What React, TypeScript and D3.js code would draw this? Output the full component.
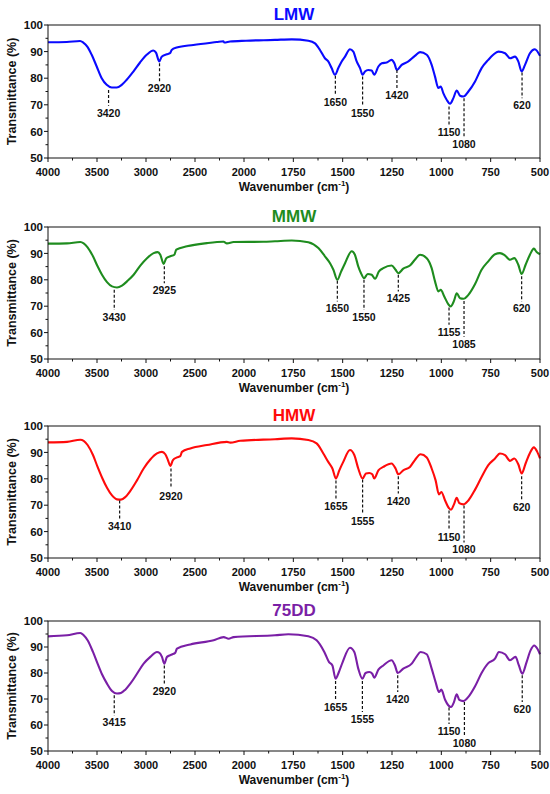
import React from 'react';
import * as d3 from 'd3';

type Pt = [number, number];
interface Peak { label: string; wn: number; y1: number; y2: number }

// axis ticks (wavenumber axis has a scale change at 2000)
const xMajor = [4000, 3500, 3000, 2500, 2000, 1750, 1500, 1250, 1000, 750, 500];
const xMinor = [3750, 3250, 2750, 2250, 1875, 1625, 1375, 1125, 875, 625];
const yMajor = [50, 60, 70, 80, 90, 100];
const yMinor = [55, 65, 75, 85, 95];

const names = ['LMW', 'MMW', 'HMW', '75DD'];
const colors = ['#0a0aff', '#1e8c1e', '#ff0a0a', '#7a1fa6'];

const lmw: Pt[] = [
  [4000, 93.5], [3809, 93.6], [3673, 94.0], [3640, 93.4], [3599, 91.9], [3554, 88.8], [3503, 84.4],
  [3452, 80.0], [3401, 77.5], [3350, 76.5], [3299, 76.5], [3248, 77.5], [3197, 79.4], [3129, 82.5],
  [3061, 85.9], [2993, 88.8], [2925, 90.4], [2898, 89.6], [2864, 86.3], [2840, 88.1], [2789, 89.0],
  [2755, 89.4], [2738, 90.6], [2687, 91.5], [2517, 92.5], [2279, 93.6], [2211, 93.9], [2201, 93.4],
  [2143, 93.8], [1990, 94.1], [1843, 94.4], [1758, 94.6], [1674, 94.1], [1640, 93.1], [1615, 90.6],
  [1590, 87.5], [1573, 86.3], [1556, 83.8], [1539, 81.3], [1522, 83.8], [1505, 86.3], [1488, 88.1],
  [1463, 90.9], [1446, 90.0], [1429, 86.3], [1412, 83.8], [1399, 81.3], [1387, 82.5], [1370, 83.1],
  [1353, 82.9], [1340, 81.3], [1319, 84.4], [1302, 85.6], [1277, 85.9], [1252, 86.9], [1238, 85.6],
  [1225, 83.1], [1201, 85.0], [1167, 86.3], [1134, 88.4], [1108, 89.8], [1074, 88.8], [1049, 85.0],
  [1032, 80.6], [1015, 76.3], [1003, 76.9], [990, 74.4], [973, 71.9], [956, 70.4], [939, 72.5],
  [922, 75.4], [905, 73.4], [888, 73.1], [863, 75.0], [829, 78.8], [796, 83.8], [762, 86.9],
  [737, 88.8], [711, 90.0], [677, 89.4], [652, 87.5], [627, 88.1], [610, 86.3], [593, 82.5],
  [576, 85.0], [551, 89.4], [526, 90.9], [500, 88.4],
];
const mmw: Pt[] = [
  [4000, 93.7], [3806, 93.8], [3670, 94.3], [3636, 93.8], [3596, 92.3], [3541, 88.9], [3494, 85.1],
  [3449, 81.9], [3398, 79.1], [3347, 77.5], [3296, 77.1], [3245, 77.8], [3194, 79.4], [3126, 81.9],
  [3058, 85.4], [2990, 88.2], [2922, 90.1], [2881, 90.5], [2854, 89.5], [2820, 86.0], [2793, 88.2],
  [2752, 88.9], [2711, 89.5], [2691, 91.4], [2582, 92.7], [2378, 93.9], [2208, 94.4], [2174, 93.8],
  [2106, 94.3], [1902, 94.4], [1843, 94.6], [1758, 94.9], [1674, 94.2], [1623, 92.0], [1590, 88.9],
  [1564, 86.3], [1547, 83.8], [1527, 80.0], [1509, 82.9], [1488, 86.3], [1454, 90.8], [1438, 89.5],
  [1421, 85.1], [1407, 82.5], [1392, 80.6], [1373, 82.2], [1353, 81.9], [1336, 80.4], [1316, 83.2],
  [1294, 84.4], [1252, 85.4], [1232, 83.8], [1218, 82.5], [1193, 84.2], [1159, 85.4], [1134, 87.6],
  [1108, 89.5], [1074, 88.2], [1049, 84.4], [1032, 79.4], [1015, 75.6], [1003, 76.2], [985, 73.7],
  [965, 70.8], [953, 69.9], [936, 72.0], [922, 74.9], [905, 73.0], [888, 72.8], [863, 74.3],
  [829, 78.4], [796, 83.8], [762, 87.0], [728, 89.7], [703, 90.1], [677, 89.2], [652, 87.6],
  [630, 88.2], [610, 85.7], [593, 82.2], [573, 85.7], [551, 89.5], [531, 91.8], [517, 90.5], [500, 89.7],
];
const hmw: Pt[] = [
  [4000, 93.8], [3806, 94.0], [3670, 94.8], [3636, 94.4], [3596, 92.8], [3541, 89.0], [3494, 84.5],
  [3449, 80.5], [3398, 76.6], [3347, 73.7], [3296, 72.2], [3256, 72.1], [3211, 73.1], [3160, 75.4],
  [3092, 79.4], [3024, 83.9], [2956, 87.3], [2888, 89.6], [2837, 90.2], [2803, 89.3], [2776, 87.1],
  [2752, 84.9], [2725, 87.1], [2684, 88.1], [2650, 88.6], [2633, 90.2], [2548, 91.5], [2378, 92.8],
  [2174, 94.0], [2140, 93.7], [2038, 94.4], [1843, 95.0], [1758, 95.3], [1674, 94.7], [1632, 93.4],
  [1598, 89.6], [1573, 86.4], [1552, 83.9], [1534, 80.1], [1517, 83.2], [1497, 86.4], [1463, 90.9],
  [1441, 89.0], [1421, 83.9], [1399, 80.1], [1382, 82.0], [1365, 82.2], [1350, 81.7], [1340, 80.1],
  [1319, 83.2], [1294, 84.5], [1252, 85.8], [1232, 83.9], [1218, 81.7], [1193, 83.2], [1159, 84.5],
  [1134, 87.1], [1105, 89.3], [1074, 88.1], [1049, 83.9], [1029, 79.4], [1012, 74.1], [1000, 75.0],
  [981, 71.8], [965, 69.3], [951, 68.3], [936, 70.3], [922, 72.8], [909, 70.8], [888, 70.3],
  [863, 71.8], [829, 75.9], [796, 80.7], [762, 85.2], [728, 87.7], [703, 89.6], [677, 89.0],
  [652, 86.8], [630, 87.7], [610, 85.5], [593, 82.0], [573, 85.8], [551, 89.8], [531, 91.9],
  [514, 90.2], [500, 87.7],
];
const dd75: Pt[] = [
  [4000, 94.1], [3806, 94.5], [3670, 95.4], [3636, 94.5], [3596, 92.6], [3541, 88.1], [3494, 83.6],
  [3449, 79.5], [3398, 75.9], [3347, 73.1], [3296, 72.1], [3256, 72.3], [3211, 73.6], [3160, 75.9],
  [3092, 79.7], [3024, 83.6], [2956, 86.2], [2888, 88.1], [2861, 87.7], [2837, 86.2], [2813, 83.6],
  [2786, 86.2], [2735, 87.1], [2701, 87.8], [2684, 89.4], [2548, 91.0], [2310, 92.6], [2208, 93.8],
  [2157, 93.2], [2106, 93.8], [1843, 94.5], [1775, 94.9], [1674, 94.1], [1632, 92.6], [1593, 88.1],
  [1569, 84.2], [1552, 82.9], [1536, 77.8], [1519, 80.4], [1500, 84.2], [1463, 89.7], [1441, 88.1],
  [1421, 81.7], [1400, 77.8], [1384, 80.0], [1365, 80.4], [1350, 79.7], [1340, 78.2], [1319, 81.3],
  [1294, 82.9], [1252, 84.9], [1235, 82.9], [1221, 80.0], [1193, 81.7], [1150, 83.6], [1125, 86.4],
  [1105, 88.1], [1074, 87.2], [1049, 81.7], [1029, 76.5], [1012, 72.7], [1000, 73.6], [981, 69.7],
  [965, 67.6], [951, 66.9], [936, 68.8], [922, 71.8], [909, 69.7], [888, 69.2], [863, 70.8],
  [829, 74.9], [796, 80.0], [762, 83.8], [728, 85.5], [708, 88.1], [677, 87.2], [652, 84.9],
  [624, 86.2], [607, 82.9], [590, 79.7], [568, 84.2], [548, 88.7], [529, 90.6], [514, 89.4], [500, 87.2],
];

// peak markers: label, wavenumber position, dashed line from y1 down to y2
const lmwPeaks: Peak[] = [
  { label: '3420', wn: 3382, y1: 75.6, y2: 69.6 },
  { label: '2920', wn: 2862, y1: 85.6, y2: 78.8 },
  { label: '1650', wn: 1537, y1: 80.9, y2: 73.8 },
  { label: '1550', wn: 1399, y1: 80.6, y2: 69.4 },
  { label: '1420', wn: 1225, y1: 83.1, y2: 76.3 },
  { label: '1150', wn: 961, y1: 69.4, y2: 62.5 },
  { label: '1080', wn: 885, y1: 72.5, y2: 58.0 },
  { label: '620', wn: 591, y1: 82.1, y2: 72.5 },
];
const mmwPeaks: Peak[] = [
  { label: '3430', wn: 3324, y1: 76.2, y2: 68.6 },
  { label: '2925', wn: 2813, y1: 85.1, y2: 78.7 },
  { label: '1650', wn: 1527, y1: 79.6, y2: 71.8 },
  { label: '1550', wn: 1392, y1: 80.0, y2: 68.6 },
  { label: '1425', wn: 1218, y1: 81.9, y2: 75.6 },
  { label: '1155', wn: 961, y1: 69.5, y2: 63.0 },
  { label: '1085', wn: 885, y1: 72.0, y2: 58.4 },
  { label: '620', wn: 593, y1: 81.3, y2: 71.8 },
];
const hmwPeaks: Peak[] = [
  { label: '3410', wn: 3269, y1: 71.8, y2: 64.8 },
  { label: '2920', wn: 2745, y1: 83.9, y2: 76.3 },
  { label: '1655', wn: 1534, y1: 79.4, y2: 72.5 },
  { label: '1555', wn: 1399, y1: 79.7, y2: 66.8 },
  { label: '1420', wn: 1218, y1: 81.0, y2: 74.4 },
  { label: '1150', wn: 961, y1: 68.0, y2: 60.6 },
  { label: '1080', wn: 885, y1: 69.9, y2: 55.9 },
  { label: '620', wn: 593, y1: 81.0, y2: 71.8 },
];
const dd75Peaks: Peak[] = [
  { label: '3415', wn: 3324, y1: 71.4, y2: 63.7 },
  { label: '2920', wn: 2813, y1: 82.9, y2: 75.9 },
  { label: '1655', wn: 1536, y1: 76.9, y2: 69.7 },
  { label: '1555', wn: 1400, y1: 76.9, y2: 65.0 },
  { label: '1420', wn: 1221, y1: 79.1, y2: 72.7 },
  { label: '1150', wn: 961, y1: 66.7, y2: 60.4 },
  { label: '1080', wn: 883, y1: 68.8, y2: 55.6 },
  { label: '620', wn: 590, y1: 79.1, y2: 68.8 },
];

const spectra = [lmw, mmw, hmw, dd75];
const peaks = [lmwPeaks, mmwPeaks, hmwPeaks, dd75Peaks];

const font = '"Liberation Sans", Arial, sans-serif';
const tops = [25, 227, 426, 621];
const bottoms = [158, 359, 558, 751];

const x = d3.scaleLinear().domain([4000, 2000, 500]).range([48, 244, 540]);

function Panel({ i }: { i: number }) {
  const top = tops[i];
  const bottom = bottoms[i];
  const y = d3.scaleLinear().domain([50, 100]).range([bottom, top]);
  const line = d3.line<Pt>().x(d => x(d[0])).y(d => y(d[1])).curve(d3.curveMonotoneX);
  const left = x(4000);
  const right = x(500);
  return (
    <g>
      <text x={(left + right) / 2} y={top - 5} textAnchor="middle" fontFamily={font} fontWeight="bold"
        fontSize={17} fill={colors[i]}>{names[i]}</text>
      <path d={line(spectra[i]) || ''} fill="none" stroke={colors[i]} strokeWidth={2.1} strokeLinejoin="round" />
      {peaks[i].map(p => (
        <g key={p.label + p.wn}>
          <line x1={x(p.wn)} x2={x(p.wn)} y1={y(p.y1)} y2={y(p.y2)} stroke="#111" strokeWidth={1.2}
            strokeDasharray="3,2" />
          <text x={x(p.wn)} y={y(p.y2) + 11} textAnchor="middle" fontFamily={font} fontWeight="bold"
            fontSize={10.5} fill="#111">{p.label}</text>
        </g>
      ))}
      <rect x={left} y={top} width={right - left} height={bottom - top} fill="none" stroke="#111" strokeWidth={1} />
      {xMajor.map(t => (
        <g key={'xm' + t}>
          <line x1={x(t)} x2={x(t)} y1={bottom} y2={bottom + 4} stroke="#111" />
          <text x={x(t)} y={bottom + 18} textAnchor="middle" fontFamily={font} fontWeight="bold"
            fontSize={11} fill="#111">{t}</text>
        </g>
      ))}
      {xMinor.map(t => (
        <line key={'xn' + t} x1={x(t)} x2={x(t)} y1={bottom} y2={bottom + 2.5} stroke="#111" />
      ))}
      {yMajor.map(t => (
        <g key={'ym' + t}>
          <line x1={left - 4} x2={left} y1={y(t)} y2={y(t)} stroke="#111" />
          <text x={left - 5} y={y(t)} dy="0.36em" textAnchor="end" fontFamily={font} fontWeight="bold"
            fontSize={11.5} fill="#111">{t}</text>
        </g>
      ))}
      {yMinor.map(t => (
        <line key={'yn' + t} x1={left - 2.5} x2={left} y1={y(t)} y2={y(t)} stroke="#111" />
      ))}
      <text x={(left + right) / 2} y={bottom + 33} textAnchor="middle" fontFamily={font} fontWeight="bold"
        fontSize={12} fill="#111">
        Wavenumber (cm<tspan fontSize={8} dy={-5}>-1</tspan><tspan dy={5}>)</tspan>
      </text>
      <text transform={`translate(16,${(top + bottom) / 2}) rotate(-90)`} textAnchor="middle" fontFamily={font}
        fontWeight="bold" fontSize={12.5} fill="#111">Transmittance (%)</text>
    </g>
  );
}

export default function App() {
  return (
    <div style={{ position: 'absolute', left: 0, top: 0 }}>
      <svg width={550} height={794} style={{ display: 'block', background: '#fff' }}>
        {names.map((n, i) => <Panel key={n} i={i} />)}
      </svg>
    </div>
  );
}
